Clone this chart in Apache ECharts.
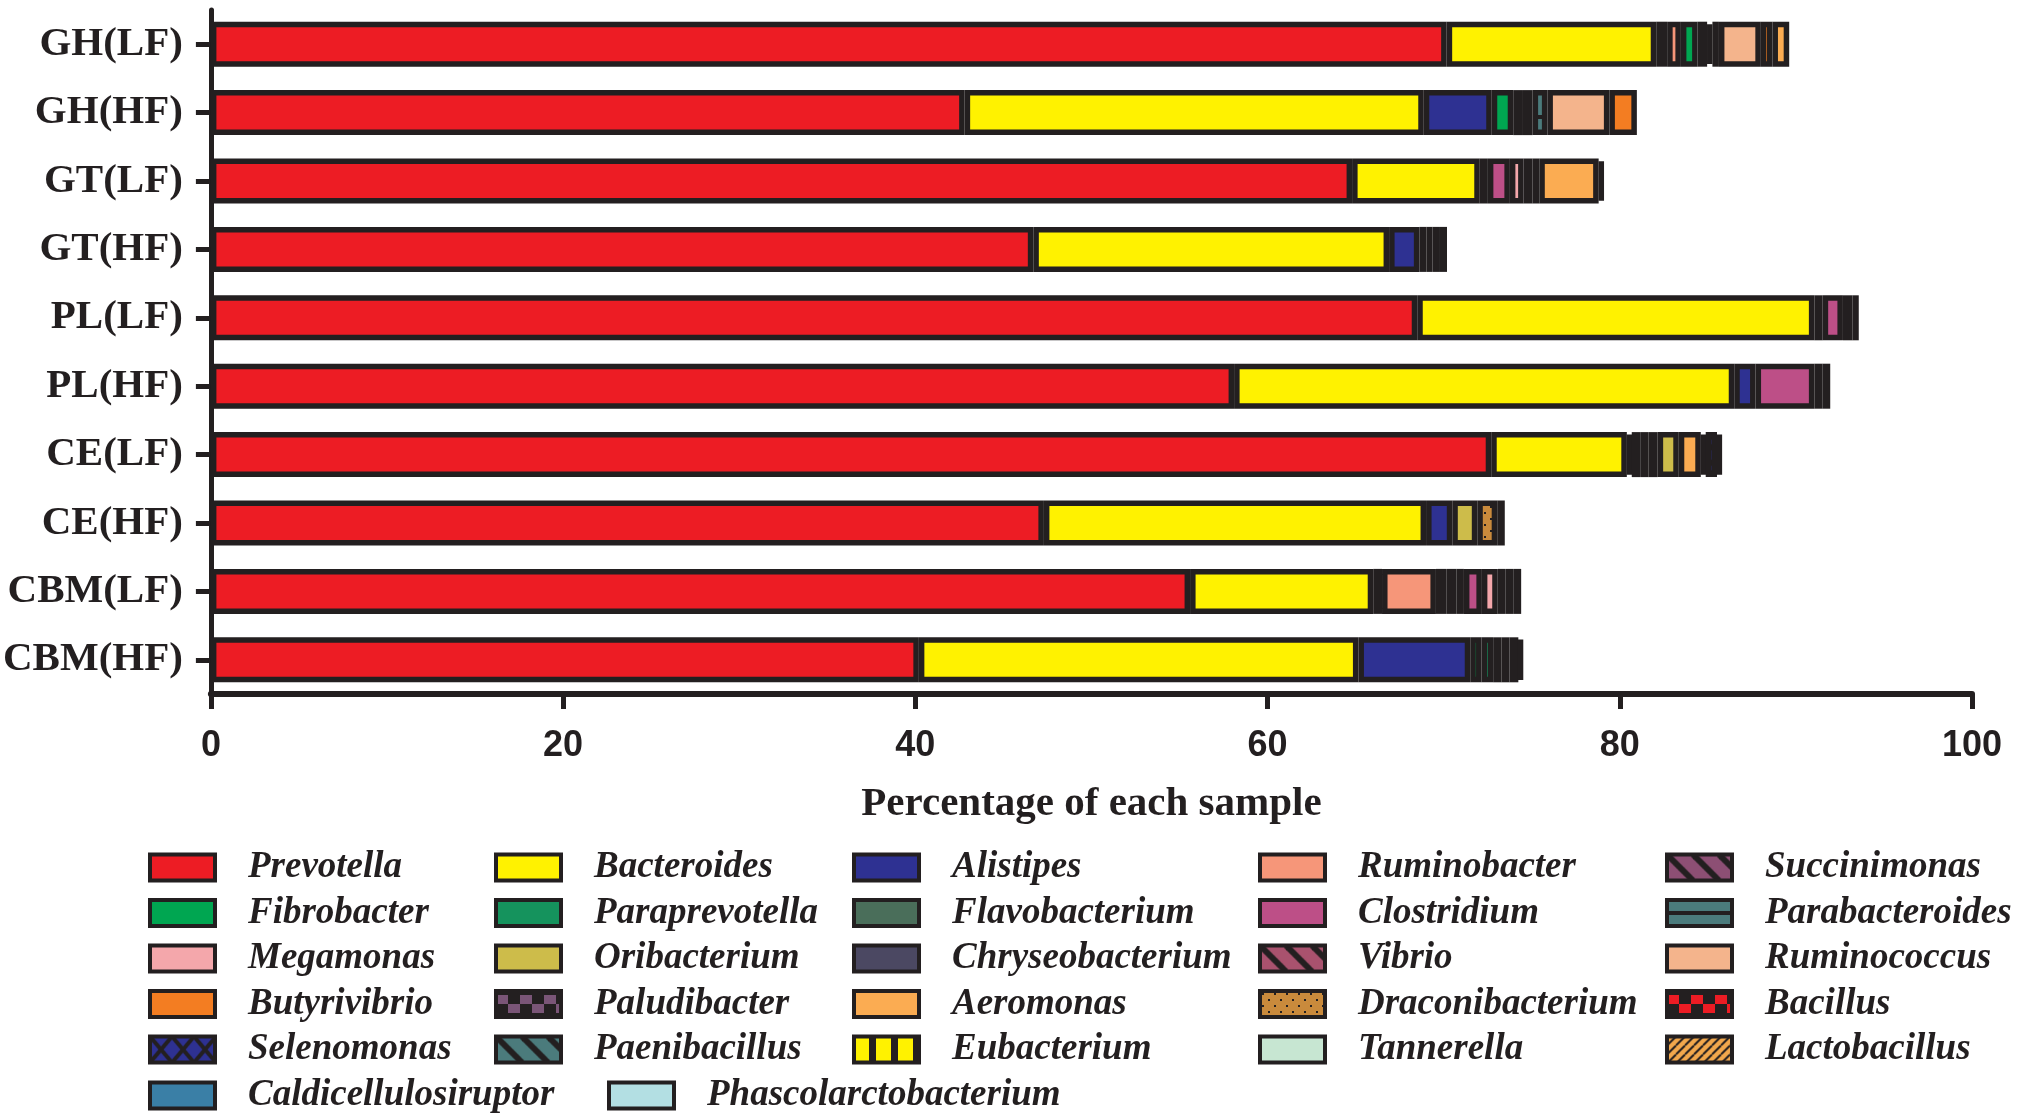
<!DOCTYPE html>
<html>
<head>
<meta charset="utf-8">
<script src="https://cdn.jsdelivr.net/npm/echarts@6/dist/echarts.min.js"></script>
<style>
html, body { margin: 0; padding: 0; background: #fff; }
#chart { width: 2024px; height: 1115px; }
</style>
</head>
<body>
<div id="chart"></div>
<script>
// samples, top to bottom
var categories = ['GH(LF)', 'GH(HF)', 'GT(LF)', 'GT(HF)', 'PL(LF)', 'PL(HF)', 'CE(LF)', 'CE(HF)', 'CBM(LF)', 'CBM(HF)'];

// percentage of each genus per sample (same order as categories)
var prevotella           = [70.17, 42.8, 64.8, 46.7, 68.5, 58.1, 72.7, 47.3, 55.6, 40.2];
var bacteroides          = [11.9, 26.07, 7.25, 20.2, 22.55, 28.4, 7.7, 21.7, 10.4, 24.96];
var alistipes            = [0.62, 3.86, 0, 1.72, 0.47, 1.21, 0.28, 1.49, 0.5, 6.35];
var ruminobacter         = [0.78, 0, 0, 0, 0, 0, 0.48, 0, 3.06, 0];
var succinimonas         = [0, 0, 0, 0, 0, 0, 0, 0, 0, 0];
var fibrobacter          = [0.95, 1.22, 0, 0, 0, 0, 0, 0, 0.59, 0.64];
var paraprevotella       = [0.54, 0.5, 0, 0, 0, 0, 0, 0, 0.57, 0.66];
var flavobacterium       = [0.3, 0, 0.46, 0.4, 0, 0, 0, 0, 0.43, 0.48];
var clostridium          = [0, 0.6, 1.25, 0, 1.15, 3.34, 0.48, 0, 1.02, 0];
var chryseobacterium     = [0.37, 0, 0, 0.35, 0, 0, 0, 0, 0, 0.45];
var parabacteroides      = [0, 0.84, 0, 0.42, 0, 0, 0.51, 0, 0, 0.5];
var megamonas            = [0, 0, 0.78, 0, 0, 0, 0, 0, 0.9, 0];
var phascolarctobacterium= [0, 0, 0.5, 0, 0, 0, 0, 0, 0.43, 0];
var oribacterium         = [0, 0, 0, 0, 0, 0, 1.2, 1.42, 0, 0];
var vibrio               = [0, 0, 0, 0, 0, 0, 0, 0, 0.45, 0];
var ruminococcus         = [2.38, 3.52, 0, 0, 0, 0, 0, 0, 0, 0];
var butyrivibrio         = [0.66, 1.56, 0, 0, 0, 0, 0, 0, 0, 0];
var paludibacter         = [0, 0, 0.39, 0.4, 0, 0, 0, 0, 0, 0];
var aeromonas            = [0.95, 0, 3.37, 0, 0, 0, 1.25, 0, 0, 0];
var draconibacterium     = [0, 0, 0, 0, 0, 0, 0.28, 1.13, 0, 0];
var bacillus             = [0, 0, 0, 0, 0.55, 0.45, 0, 0, 0, 0];
var selenomonas          = [0, 0, 0, 0, 0, 0, 0.64, 0, 0, 0];
var paenibacillus        = [0, 0, 0.3, 0, 0.35, 0.45, 0.27, 0.43, 0.45, 0.25];
var eubacterium          = [0, 0, 0, 0, 0, 0, 0, 0, 0, 0];
var tannerella           = [0, 0, 0, 0, 0, 0, 0, 0, 0, 0];
var lactobacillus        = [0, 0, 0, 0, 0, 0, 0, 0, 0, 0];
var caldicellulosiruptor = [0, 0, 0, 0, 0, 0, 0, 0, 0, 0];

var xTicks = [0, 20, 40, 60, 80, 100];

var INK = '#231f20';

// small canvas patterns for the hatched genera
function pattern(w, h, draw) {
    var c = document.createElement('canvas');
    c.width = w; c.height = h;
    var ctx = c.getContext('2d');
    draw(ctx, w, h);
    return { image: c, repeat: 'repeat' };
}
function backStripes(base, lw) {
    return pattern(26, 26, function (ctx, w, h) {
        ctx.fillStyle = base; ctx.fillRect(0, 0, w, h);
        ctx.strokeStyle = INK; ctx.lineWidth = lw;
        for (var x = -w; x <= w; x += w) {
            ctx.beginPath(); ctx.moveTo(x, 0); ctx.lineTo(x + w, h); ctx.stroke();
        }
    });
}
function fwdStripes(base) {
    return pattern(9, 9, function (ctx, w, h) {
        ctx.fillStyle = base; ctx.fillRect(0, 0, w, h);
        ctx.strokeStyle = INK; ctx.lineWidth = 2;
        for (var x = -w; x <= w; x += w) {
            ctx.beginPath(); ctx.moveTo(x, h); ctx.lineTo(x + w, 0); ctx.stroke();
        }
    });
}
function checker(c1) {
    return pattern(24, 26, function (ctx, w, h) {
        ctx.fillStyle = INK; ctx.fillRect(0, 0, w, h);
        ctx.fillStyle = c1;
        ctx.fillRect(0, 4, 12, 9);
        ctx.fillRect(12, 13, 12, 9);
    });
}
var colors = {
    Prevotella: '#ed1c24',
    Bacteroides: '#fff200',
    Alistipes: '#2e3192',
    Ruminobacter: '#f69679',
    Succinimonas: backStripes('#8d4f74', 6),
    Fibrobacter: '#00a651',
    Paraprevotella: '#15935d',
    Flavobacterium: '#4a6e5a',
    Clostridium: '#bd4f87',
    Parabacteroides: pattern(20, 26, function (ctx, w, h) {
        ctx.fillStyle = '#4b7b7c'; ctx.fillRect(0, 0, w, h);
        ctx.fillStyle = INK; ctx.fillRect(0, 11, w, 4);
    }),
    Megamonas: '#f4a7ab',
    Phascolarctobacterium: '#b3dfe3',
    Oribacterium: '#cdbc4a',
    Chryseobacterium: '#4b4862',
    Vibrio: backStripes('#a9526e', 6),
    Ruminococcus: '#f4b48c',
    Butyrivibrio: '#f37d22',
    Paludibacter: checker('#7a5577'),
    Aeromonas: '#fbac52',
    Draconibacterium: pattern(12, 12, function (ctx, w, h) {
        ctx.fillStyle = '#c98a3c'; ctx.fillRect(0, 0, w, h);
        ctx.fillStyle = INK;
        ctx.fillRect(2, 2, 2, 2); ctx.fillRect(8, 8, 2, 2);
    }),
    Bacillus: checker('#ed1c24'),
    Selenomonas: pattern(22, 26, function (ctx, w, h) {
        ctx.fillStyle = '#2e3192'; ctx.fillRect(0, 0, w, h);
        ctx.strokeStyle = INK; ctx.lineWidth = 4;
        ctx.beginPath(); ctx.moveTo(0, 0); ctx.lineTo(w, h); ctx.moveTo(w, 0); ctx.lineTo(0, h); ctx.stroke();
    }),
    Paenibacillus: backStripes('#4b7b7c', 6),
    Eubacterium: pattern(22, 10, function (ctx, w, h) {
        ctx.fillStyle = '#fff200'; ctx.fillRect(0, 0, w, h);
        ctx.fillStyle = INK; ctx.fillRect(15, 0, 7, h);
    }),
    Tannerella: '#c7e6d2',
    Lactobacillus: fwdStripes('#f2a84c'),
    Caldicellulosiruptor: '#3a7fa6'
};

// stacking order
var stackOrder = [
    ['Prevotella', prevotella], ['Bacteroides', bacteroides], ['Alistipes', alistipes],
    ['Ruminobacter', ruminobacter], ['Succinimonas', succinimonas], ['Fibrobacter', fibrobacter],
    ['Paraprevotella', paraprevotella], ['Flavobacterium', flavobacterium], ['Clostridium', clostridium],
    ['Chryseobacterium', chryseobacterium], ['Parabacteroides', parabacteroides], ['Megamonas', megamonas],
    ['Phascolarctobacterium', phascolarctobacterium], ['Oribacterium', oribacterium], ['Vibrio', vibrio],
    ['Ruminococcus', ruminococcus], ['Butyrivibrio', butyrivibrio], ['Paludibacter', paludibacter],
    ['Aeromonas', aeromonas], ['Draconibacterium', draconibacterium], ['Bacillus', bacillus],
    ['Selenomonas', selenomonas], ['Paenibacillus', paenibacillus], ['Eubacterium', eubacterium],
    ['Tannerella', tannerella], ['Lactobacillus', lactobacillus], ['Caldicellulosiruptor', caldicellulosiruptor]
];

var series = stackOrder.map(function (s) {
    return {
        name: s[0],
        type: 'bar',
        stack: 'total',
        barWidth: 45,
        data: s[1].map(function (v) { return v > 0 ? v : '-'; }),
        itemStyle: { color: colors[s[0]], borderColor: INK, borderWidth: 5.5 }
    };
});

// legend blocks as in the figure (five columns, plus the last row)
var legendCols = [
    ['Prevotella', 'Fibrobacter', 'Megamonas', 'Butyrivibrio', 'Selenomonas'],
    ['Bacteroides', 'Paraprevotella', 'Oribacterium', 'Paludibacter', 'Paenibacillus'],
    ['Alistipes', 'Flavobacterium', 'Chryseobacterium', 'Aeromonas', 'Eubacterium'],
    ['Ruminobacter', 'Clostridium', 'Vibrio', 'Draconibacterium', 'Tannerella'],
    ['Succinimonas', 'Parabacteroides', 'Ruminococcus', 'Bacillus', 'Lactobacillus'],
    ['Caldicellulosiruptor'],
    ['Phascolarctobacterium']
];
var legendLeft = [148, 494, 852, 1258, 1665, 148, 607];
var legendTop = [849, 849, 849, 849, 849, 1077, 1077];

var legends = legendCols.map(function (names, i) {
    return {
        orient: 'vertical',
        left: legendLeft[i],
        top: legendTop[i],
        padding: 0,
        itemGap: 8.5,
        itemWidth: 65,
        itemHeight: 26,
        icon: 'rect',
        selectedMode: false,
        data: names,
        itemStyle: { borderColor: INK, borderWidth: 4 },
        textStyle: {
            fontFamily: 'Liberation Serif',
            fontStyle: 'italic',
            fontWeight: 'bold',
            fontSize: 37,
            lineHeight: 36,
            color: INK,
            padding: [0, 0, 0, 28]
        }
    };
});

var chart = echarts.init(document.getElementById('chart'));
chart.setOption({
    backgroundColor: '#fff',
    animation: false,
    legend: legends,
    grid: { left: 207, right: 52, top: 10, bottom: 421 },
    xAxis: {
        type: 'value',
        min: xTicks[0],
        max: xTicks[xTicks.length - 1],
        interval: xTicks[1] - xTicks[0],
        name: 'Percentage of each sample',
        nameLocation: 'middle',
        nameGap: 90,
        nameTextStyle: { fontFamily: 'Liberation Serif', fontWeight: 'bold', fontSize: 41, color: INK },
        axisLine: { show: true, lineStyle: { color: INK, width: 6 } },
        axisTick: { show: true, length: 15, lineStyle: { color: INK, width: 5 } },
        axisLabel: { margin: 34, fontFamily: 'Liberation Sans', fontWeight: 'bold', fontSize: 36, color: INK },
        splitLine: { show: false }
    },
    yAxis: {
        type: 'category',
        inverse: true,
        data: categories,
        axisLine: { show: true, lineStyle: { color: INK, width: 5 } },
        axisTick: { show: true, alignWithLabel: true, length: 15, lineStyle: { color: INK, width: 5 } },
        axisLabel: { margin: 28, fontFamily: 'Liberation Serif', fontWeight: 'bold', fontSize: 41, color: INK }
    },
    series: series
});
</script>
</body>
</html>
